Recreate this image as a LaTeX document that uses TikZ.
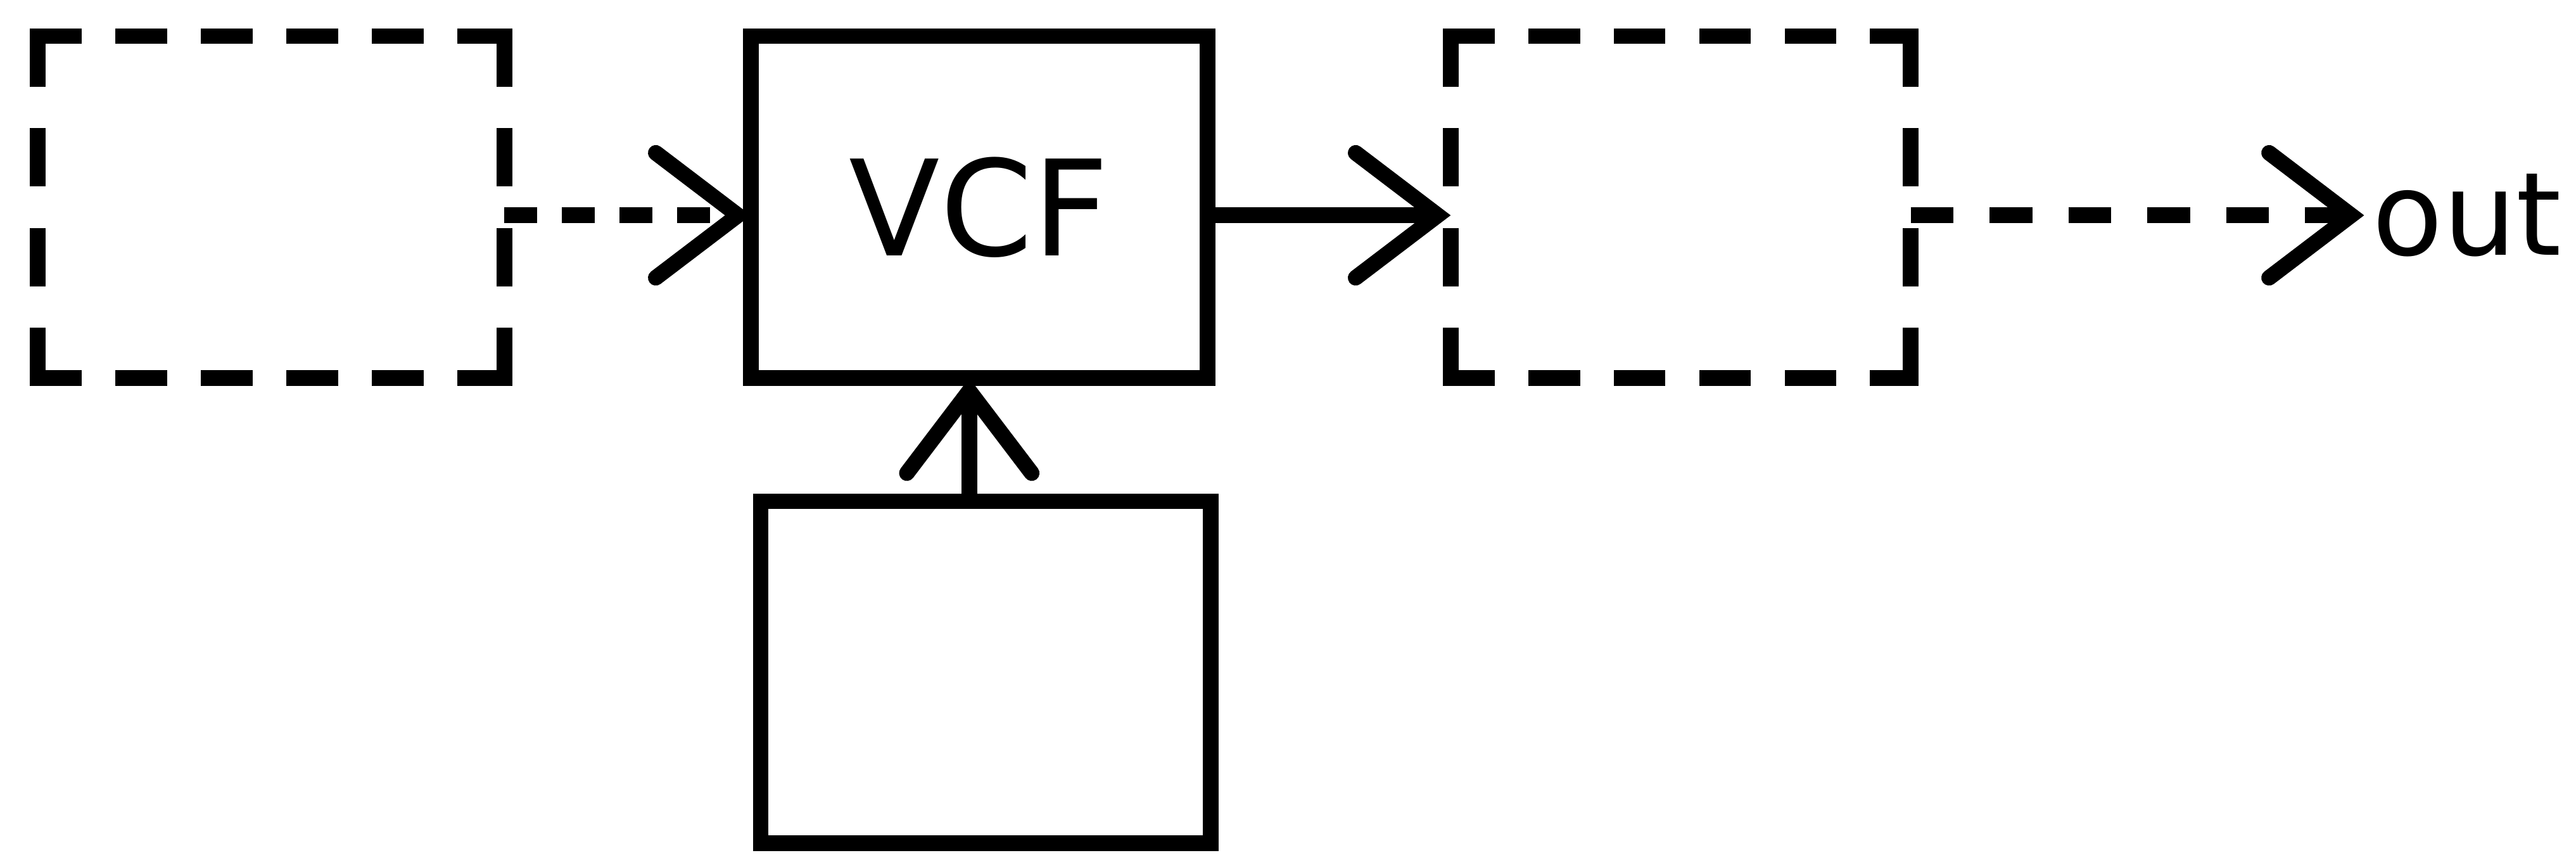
\documentclass[tikz,border=0pt]{standalone}
\usepackage{fontspec}
\setmainfont{DejaVu Sans}
\usepackage{tikz}
\usetikzlibrary{arrows.meta,positioning}
\tikzset{
  box_solid/.style={draw=black,line width=2.7pt,minimum width=2.78cm,minimum height=2.08cm,
    outer sep=0pt,font=\fontsize{23}{27}\selectfont,align=center},
  box_dash/.style={minimum width=2.84cm,minimum height=2.08cm,outer sep=0pt},
  edge_h/.style={draw=black,line width=2.7pt,line cap=rect,dash pattern=on 0.22cm off 0.30cm},
  edge_v/.style={draw=black,line width=2.7pt,line cap=rect,dash pattern=on 0.26cm off 0.347cm},
  lbl/.style={inner sep=0.05cm,outer sep=0pt,font=\fontsize{20}{24}\selectfont},
  arr/.style={-{Straight Barb[length=0.5cm,width=0.76cm,line cap=round]},line width=2.7pt,draw=black},
  arr_dash/.style={arr,dash pattern=on 0.2cm off 0.15cm},
  arr_dash_long/.style={arr,dash pattern=on 0.26cm off 0.22cm},
}
\begin{document}
\begin{tikzpicture}
  \useasboundingbox (0,0) rectangle (15.68,5.23);

  \node[box_dash] (src) at (1.65,3.97) {};
  \node[box_solid, right=1.50cm of src] (vcf) {VCF};
  \node[box_dash, minimum width=2.80cm, right=1.48cm of vcf] (dst) {};
  \node[box_solid, minimum width=2.74cm, below=0.75cm of vcf, xshift=0.04cm] (ctrl) {};
  \node[lbl, right=2.76cm of dst, yshift=-0.05cm] (out) {out};

  % dashed outlines, each side starts and ends on a dash
  \foreach \b in {src,dst}{
    \draw[edge_h] (\b.north west) -- (\b.north east);
    \draw[edge_h] (\b.south west) -- (\b.south east);
    \draw[edge_v] (\b.north west) -- (\b.south west);
    \draw[edge_v] (\b.north east) -- (\b.south east);
  }

  \draw[arr_dash] ([yshift=-0.05cm]src.east) -- ([yshift=-0.05cm]vcf.west);
  \draw[arr] ([yshift=-0.05cm]vcf.east) -- ([yshift=-0.05cm]dst.west);
  \draw[arr_dash_long] ([yshift=-0.05cm]dst.east) -- (out.west);
  \draw[arr] ([xshift=-0.1cm]ctrl.north) -- ([xshift=-0.1cm]ctrl.north |- vcf.south);
\end{tikzpicture}
\end{document}
